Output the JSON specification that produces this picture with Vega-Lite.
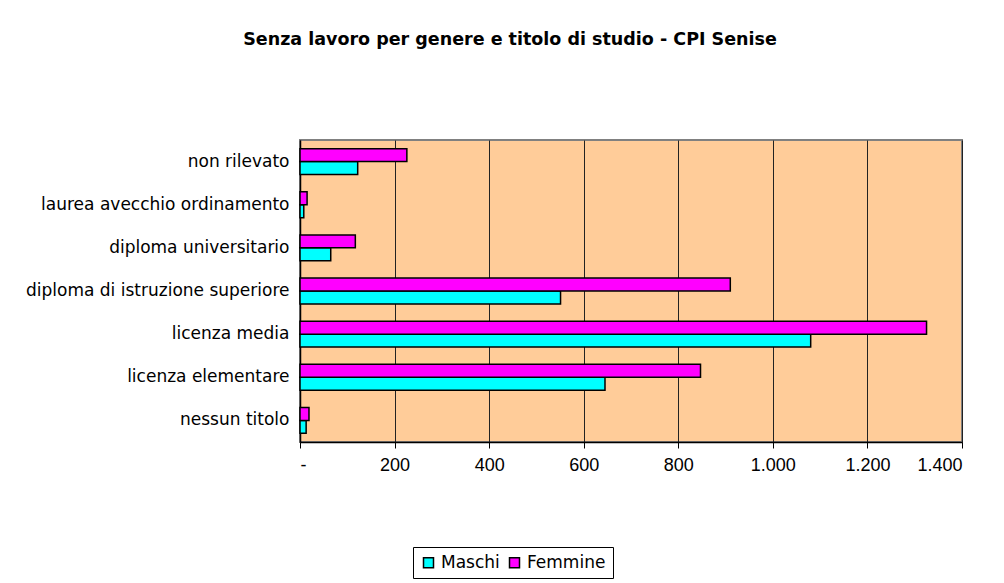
{
  "$schema": "https://vega.github.io/schema/vega-lite/v6.json",
  "width": 662,
  "height": 302,
  "autosize": {"type": "none"},
  "padding": {"left": 300, "top": 140, "right": 42, "bottom": 141},
  "background": "white",
  "title": {
    "text": "Senza lavoro per genere e titolo di studio - CPI Senise",
    "font": "DejaVu Sans",
    "fontSize": 17.5,
    "fontWeight": "bold",
    "color": "black",
    "anchor": "middle",
    "dx": -121,
    "offset": 92
  },
  "data": {
    "values": [
      {"titolo": "nessun titolo", "genere": "Maschi", "valore": 13},
      {"titolo": "nessun titolo", "genere": "Femmine", "valore": 19},
      {"titolo": "licenza elementare", "genere": "Maschi", "valore": 645},
      {"titolo": "licenza elementare", "genere": "Femmine", "valore": 847},
      {"titolo": "licenza media", "genere": "Maschi", "valore": 1080},
      {"titolo": "licenza media", "genere": "Femmine", "valore": 1325},
      {"titolo": "diploma di istruzione superiore", "genere": "Maschi", "valore": 551},
      {"titolo": "diploma di istruzione superiore", "genere": "Femmine", "valore": 910},
      {"titolo": "diploma universitario", "genere": "Maschi", "valore": 65},
      {"titolo": "diploma universitario", "genere": "Femmine", "valore": 117},
      {"titolo": "laurea avecchio ordinamento", "genere": "Maschi", "valore": 8},
      {"titolo": "laurea avecchio ordinamento", "genere": "Femmine", "valore": 15},
      {"titolo": "non rilevato", "genere": "Maschi", "valore": 122},
      {"titolo": "non rilevato", "genere": "Femmine", "valore": 226}
    ]
  },
  "mark": {"type": "bar", "stroke": "black", "strokeWidth": 1.5},
  "encoding": {
    "y": {
      "field": "titolo",
      "type": "nominal",
      "sort": ["non rilevato", "laurea avecchio ordinamento", "diploma universitario", "diploma di istruzione superiore", "licenza media", "licenza elementare", "nessun titolo"],
      "scale": {"paddingInner": 0.4, "paddingOuter": 0.2},
      "axis": {
        "title": null,
        "ticks": false,
        "labelPadding": 11,
        "labelLimit": 300,
        "labelFont": "DejaVu Sans",
        "labelFontSize": 17,
        "labelColor": "black",
        "domainColor": "black",
        "domainWidth": 1.5
      }
    },
    "yOffset": {"field": "genere", "sort": ["Femmine", "Maschi"]},
    "x": {
      "field": "valore",
      "type": "quantitative",
      "scale": {"domain": [0, 1400], "nice": false},
      "axis": {
        "title": null,
        "values": [0, 200, 400, 600, 800, 1000, 1200, 1400],
        "labelExpr": "datum.value == 0 ? '-' : replace(format(datum.value, ','), ',', '.')",
        "labelFont": "Liberation Sans",
        "labelFontSize": 18,
        "labelColor": "black",
        "labelPadding": 8,
        "tickColor": "black",
        "tickSize": 6,
        "domainColor": "black",
        "domainWidth": 1.5,
        "gridColor": "#222222",
        "gridWidth": 1
      }
    },
    "color": {
      "field": "genere",
      "type": "nominal",
      "scale": {"domain": ["Maschi", "Femmine"], "range": ["#00FFFF", "#FF00FF"]},
      "legend": {
        "title": null,
        "orient": "none",
        "legendX": 113,
        "legendY": 407,
        "direction": "horizontal",
        "strokeColor": "black",
        "fillColor": "white",
        "padding": 7,
        "symbolType": "square",
        "symbolSize": 100,
        "symbolStrokeColor": "black",
        "symbolStrokeWidth": 1.5,
        "symbolOpacity": 1,
        "labelFont": "DejaVu Sans",
        "labelFontSize": 17,
        "labelColor": "black",
        "labelOffset": 4,
        "columnPadding": 6
      }
    }
  },
  "config": {
    "view": {"fill": "#FFCC99", "stroke": "#808080", "strokeWidth": 2}
  }
}
